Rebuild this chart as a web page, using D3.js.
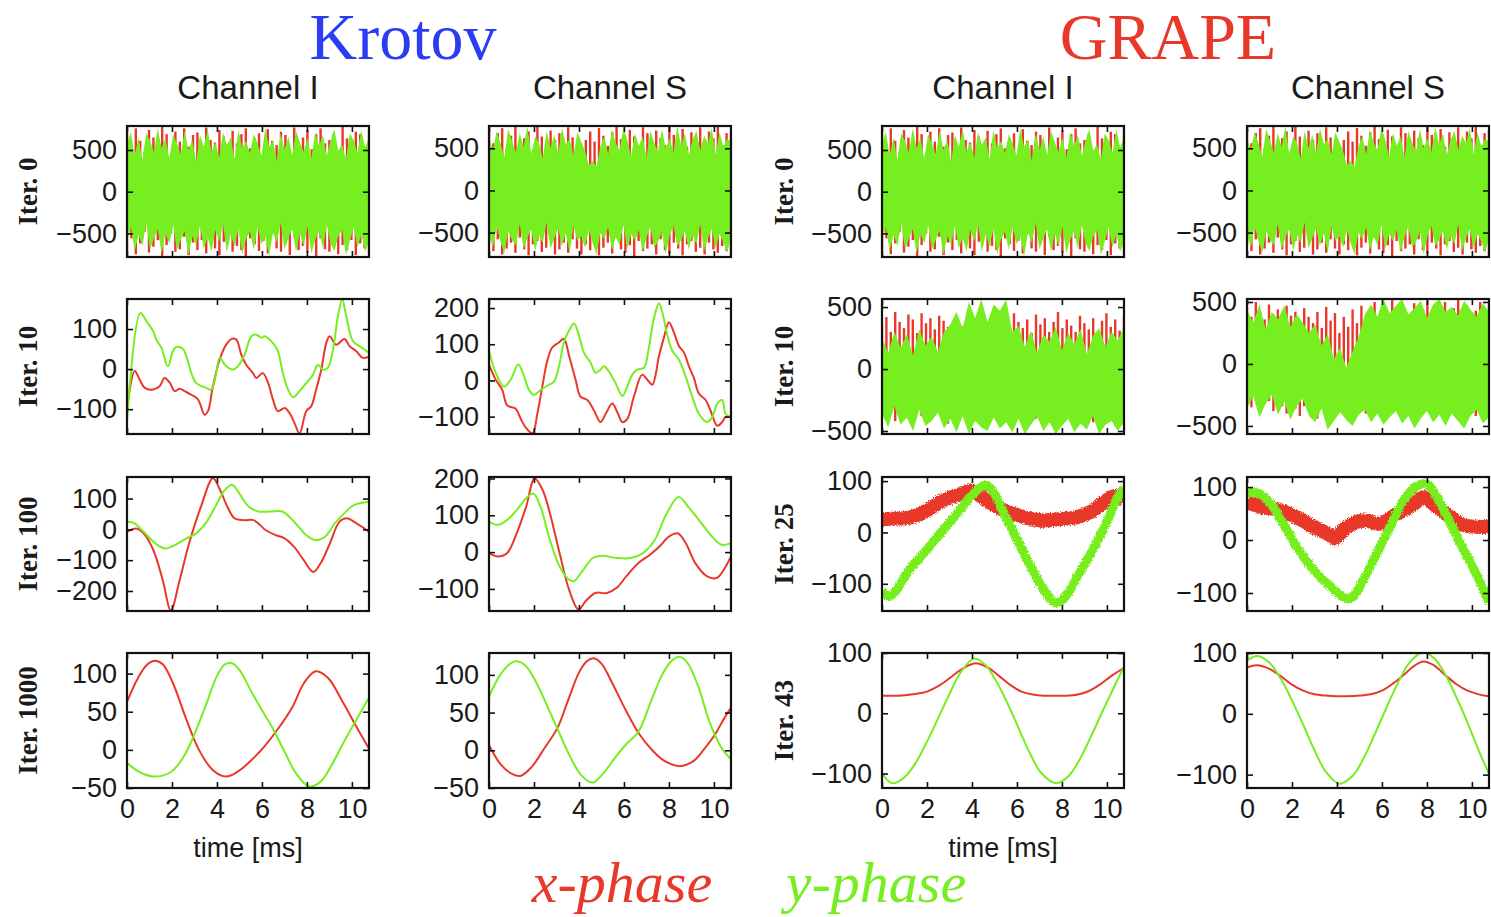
<!DOCTYPE html>
<html><head><meta charset="utf-8">
<script src="https://cdn.jsdelivr.net/npm/d3@7"></script>
<style>body{margin:0;background:#fff}svg{display:block}</style>
</head><body><svg id="c" width="1491" height="917"></svg>
<script>
// ---------------- DATA ----------------
const methods = ["Krotov", "GRAPE"];
const channels = ["Channel I", "Channel S"];
const krotovIters = ["Iter. 0", "Iter. 10", "Iter. 100", "Iter. 1000"];
const grapeIters = ["Iter. 0", "Iter. 10", "Iter. 25", "Iter. 43"];
const xTicks = [0, 2, 4, 6, 8, 10];
const legendLabels = ["x-phase", "y-phase"];

// Iteration 0 (random initial guess; identical for Krotov and GRAPE): min/max envelopes
const it0I_gHi = [560,720,430,650,380,700,610,470,760,520,640,400,690,580,450,730,500,620,360,680,540,750,470,600,410,710,560,650,390,740,520,610,460,690,580,430,760,540,620,370,700,500,660,440,730,590,480,640,400,720,550,680,430,610,750,490,570,390,700,620,460,740,530,660];
const it0I_gLo = [-600,-420,-710,-520,-650,-380,-690,-560,-450,-740,-500,-620,-400,-700,-580,-470,-760,-530,-640,-410,-680,-550,-720,-460,-600,-390,-730,-510,-660,-440,-750,-570,-480,-700,-420,-630,-540,-770,-490,-610,-380,-690,-560,-450,-720,-500,-650,-420,-740,-580,-470,-680,-400,-620,-710,-530,-460,-760,-590,-430,-670,-510,-720,-600];
const it0I_rHi = [700,520,760,610,480,740,650,560,780,690,430,720,600,760,540,680,710,500,770,620,590,740,660,450,730,580,690,760,520,640,700,480,750,610,560,720,680,430,770,600,650,740,510,690,760,580,620,700,470,780,640,560,720,690,520,750];
const it0I_rLo = [-700,-560,-750,-620,-480,-730,-660,-580,-770,-640,-500,-720,-690,-540,-760,-610,-700,-580,-740,-520,-680,-760,-600,-470,-720,-650,-700,-780,-560,-630,-710,-590,-740,-500,-680,-720,-620,-760,-540,-700,-650,-730,-600,-770,-560,-690,-720,-510,-750,-640,-700,-580,-760,-620,-680,-740];
const it0S_gHi = [620,480,700,560,400,730,590,450,680,520,760,430,640,570,380,710,500,660,440,740,550,610,420,690,580,470,300,350,280,520,650,430,720,560,480,750,600,410,680,530,640,390,710,570,460,730,500,620,450,760,540,680,420,600,710,480,650,560,740,430,690,520,610,580];
const it0S_gLo = [-520,-680,-430,-610,-740,-480,-590,-650,-400,-700,-560,-460,-720,-530,-620,-380,-690,-570,-450,-660,-510,-740,-420,-600,-540,-680,-470,-630,-760,-500,-580,-440,-710,-550,-650,-410,-690,-520,-600,-470,-730,-560,-430,-680,-610,-490,-750,-540,-420,-660,-590,-480,-700,-530,-640,-400,-720,-570,-460,-690,-520,-610,-740,-560];
const it0S_rHi = [720,560,680,740,500,650,770,590,620,700,480,760,640,560,710,600,680,520,750,630,470,540,600,700,580,740,650,530,690,760,610,560,720,640,500,750,680,590,710,620,540,760,660,600,730,520,690,640,750,580,700,620,760,540,680,720];
const it0S_rLo = [-650,-720,-580,-760,-690,-620,-740,-560,-700,-770,-640,-600,-730,-680,-550,-760,-700,-620,-740,-580,-690,-760,-640,-710,-600,-770,-680,-620,-750,-560,-700,-740,-650,-780,-600,-720,-690,-640,-760,-580,-710,-750,-620,-690,-770,-640,-600,-730,-680,-760,-620,-700,-740,-660,-720,-780];

// GRAPE iteration 10 envelopes
const g10I_gHi = [250,130,300,170,280,110,320,190,260,140,300,360,460,330,540,410,565,380,520,470,560,300,350,180,310,130,280,220,340,150,290,200,320,120,270,330,180,300,230,340];
const g10I_gLo = [-360,-470,-300,-450,-390,-500,-330,-460,-420,-350,-480,-400,-510,-380,-524,-420,-470,-500,-390,-480,-430,-510,-400,-524,-450,-380,-500,-430,-524,-460,-400,-510,-440,-490,-380,-524,-450,-420,-500,-430];
const g10I_rHi = [350,420,300,460,380,330,440,400,290,450,370,410,320,430,390,340,300,280,350,320,300,260,340,310,280,330,300,420,360,310,450,380,330,400,290,440,360,410,300,380,460,330,400,350,300,430,370,320,410,280,390,450,340,400,310,420];
const g10I_rLo = [-300,-380,-260,-420,-340,-300,-400,-350,-310,-380,-330,-290,-360,-320,-400,-440,-380,-420,-350,-300,-380,-330,-300,-360,-310,-400,-340,-380,-300,-350,-420,-330,-380,-300,-360,-400,-340,-310,-380,-420,-350,-300,-390,-340,-420,-360,-300,-380,-430,-350,-320,-400,-360,-300,-380,-340];
const g10S_gHi = [440,330,480,280,420,360,470,300,400,330,250,320,150,240,40,130,-30,100,220,400,480,380,524,410,470,524,400,450,510,370,480,524,420,460,390,510,440,380,490,420];
const g10S_gLo = [-360,-260,-430,-320,-250,-410,-300,-450,-340,-280,-420,-470,-360,-530,-460,-390,-450,-500,-410,-370,-470,-400,-490,-430,-380,-480,-420,-520,-440,-380,-470,-410,-500,-400,-460,-520,-420,-370,-480,-430];
const g10S_rHi = [460,380,500,420,360,480,400,440,350,470,390,420,310,450,380,330,420,290,460,350,410,250,380,300,440,330,470,390,430,500,360,450,410,520,380,460,430,350,490,400,440,510,370,460,420,500,380,450,520,400,470,360,430,500,410,480];
const g10S_rLo = [-280,-350,-240,-400,-320,-300,-380,-260,-340,-400,-300,-360,-420,-340,-380,-300,-440,-360,-320,-400,-380,-300,-360,-420,-330,-380,-300,-400,-350,-420,-380,-300,-360,-400,-330,-420,-360,-300,-380,-420,-340,-380,-320,-400,-360,-300,-420,-350,-380,-330,-400,-360,-420,-380,-340,-400];

// Krotov smooth pulses: [time ms, amplitude]
const k10I_x = [[0,-100],[0.34,-5],[0.56,-26],[0.79,-47],[1.16,-51],[1.45,-43],[1.67,-22],[1.9,-34],[2.12,-55],[2.34,-49],[2.56,-55],[2.86,-64],[3.16,-76],[3.45,-114],[3.6,-105],[3.82,-43],[4.12,24],[4.41,61],[4.64,75],[4.86,74],[5.08,36],[5.3,11],[5.6,-10],[5.75,-22],[6.04,-10],[6.27,-34],[6.49,-76],[6.71,-105],[7.01,-97],[7.23,-110],[7.45,-135],[7.67,-161],[7.97,-105],[8.19,-93],[8.41,-51],[8.64,-1],[8.86,65],[9.01,82],[9.3,61],[9.67,75],[9.9,57],[10.19,45],[10.49,28],[10.76,32]];
const k10I_y = [[0,-130],[0.59,140],[0.86,120],[1.16,95],[1.3,74],[1.53,53],[1.82,7],[2.04,45],[2.19,55],[2.49,50],[2.64,32],[2.86,-10],[3.08,-35],[3.53,-47],[3.75,-51],[3.97,-10],[4.12,28],[4.41,7],[4.71,-1],[4.93,7],[5.23,36],[5.53,82],[5.75,86],[5.97,78],[6.12,82],[6.49,65],[6.71,45],[6.93,-10],[7.16,-51],[7.38,-70],[7.67,-55],[7.97,-35],[8.27,-14],[8.49,11],[8.71,-1],[8.93,3],[9.16,49],[9.38,132],[9.57,174],[9.75,132],[10.04,70],[10.34,57],[10.56,49],[10.76,40]];
const k10S_x = [[0,44],[0.3,2],[0.59,-26],[0.81,-69],[1.19,-78],[1.41,-106],[1.63,-130],[1.93,-146],[2.15,-92],[2.37,-17],[2.59,54],[2.81,91],[3.11,105],[3.33,115],[3.56,68],[3.85,2],[4.07,-45],[4.37,-54],[4.67,-83],[4.96,-115],[5.19,-92],[5.48,-64],[5.7,-87],[5.93,-115],[6.15,-106],[6.44,-45],[6.81,16],[7.04,2],[7.26,-12],[7.56,68],[7.78,119],[8.0,161],[8.22,133],[8.44,96],[8.67,77],[8.89,39],[9.11,7],[9.33,-36],[9.63,-54],[9.85,-83],[10.15,-125],[10.37,-115],[10.52,-101],[10.76,-101]];
const k10S_y = [[0,82],[0.3,21],[0.67,-17],[0.96,2],[1.3,44],[1.48,25],[1.78,-26],[2.0,-40],[2.3,-26],[2.67,-12],[2.89,-3],[3.11,39],[3.33,105],[3.56,138],[3.78,157],[4.0,124],[4.22,77],[4.52,49],[4.74,21],[4.96,30],[5.11,39],[5.33,25],[5.63,-8],[5.93,-43],[6.15,-17],[6.37,16],[6.59,30],[6.89,35],[7.11,91],[7.33,171],[7.56,213],[7.7,190],[7.93,124],[8.15,82],[8.44,58],[8.74,11],[9.04,-45],[9.33,-92],[9.7,-115],[9.93,-101],[10.15,-64],[10.37,-54],[10.52,-92],[10.76,-101]];
const k100I_x = [[0,-8],[0.42,3],[0.74,-13],[1.17,-67],[1.59,-165],[1.95,-263],[2.34,-165],[2.76,-46],[3.29,74],[3.82,166],[4.14,128],[4.46,74],[4.78,36],[5.2,30],[5.63,30],[6.16,-2],[6.58,-18],[7.01,-29],[7.43,-57],[7.86,-100],[8.28,-138],[8.6,-111],[9.02,-46],[9.45,25],[9.77,36],[10.19,20],[10.76,-8]];
const k100I_y = [[0,25],[0.32,20],[0.74,-8],[1.27,-46],[1.7,-62],[2.12,-51],[2.65,-29],[3.08,-13],[3.5,20],[3.93,74],[4.35,128],[4.67,145],[4.99,117],[5.41,74],[5.84,58],[6.37,58],[6.9,58],[7.43,25],[7.96,-18],[8.39,-35],[8.81,-24],[9.24,20],[9.66,52],[10.08,79],[10.76,90]];
const k100S_x = [[0,-3],[0.38,-12],[0.8,-3],[1.23,51],[1.65,123],[2.03,200],[2.39,168],[2.71,105],[3.14,-3],[3.56,-102],[3.98,-156],[4.3,-133],[4.73,-111],[5.25,-111],[5.68,-97],[6.1,-66],[6.63,-30],[7.16,-7],[7.58,15],[8.0,42],[8.39,51],[8.75,24],[9.17,-30],[9.7,-66],[10.13,-70],[10.44,-48],[10.76,-12]];
const k100S_y = [[0,83],[0.38,74],[0.8,87],[1.23,114],[1.65,146],[1.97,159],[2.29,123],[2.71,33],[3.14,-39],[3.56,-75],[3.77,-79],[4.19,-48],[4.62,-16],[5.04,-10],[5.68,-16],[6.31,-16],[6.84,-3],[7.37,33],[7.9,105],[8.43,150],[8.86,123],[9.39,83],[9.92,42],[10.34,20],[10.76,24]];
const k1000I_x = [[0,63],[0.5,95],[0.9,112],[1.25,117],[1.6,112],[2.05,87],[2.6,43],[3.2,0],[3.8,-26],[4.4,-35],[4.95,-28],[5.55,-13],[6.15,6],[6.75,29],[7.35,56],[7.9,89],[8.4,103],[8.95,94],[9.55,65],[10.15,33],[10.75,2]];
const k1000I_y = [[0,-17],[0.55,-29],[1.25,-35],[1.95,-29],[2.5,-10],[2.95,17],[3.5,58],[4.0,97],[4.35,112],[4.65,114],[5.0,105],[5.5,78],[6.0,52],[6.45,30],[7.0,-2],[7.5,-30],[8.1,-48],[8.6,-42],[9.1,-20],[9.6,8],[10.15,37],[10.75,68]];
const k1000S_x = [[0,7],[0.5,-18],[1.0,-31],[1.4,-34],[1.9,-22],[2.45,2],[3.05,30],[3.5,65],[4.0,103],[4.35,118],[4.65,122],[5.0,115],[5.5,88],[6.05,55],[6.65,23],[7.2,2],[7.8,-14],[8.5,-21],[9.1,-14],[9.6,3],[10.05,21],[10.45,42],[10.75,56]];
const k1000S_y = [[0,71],[0.5,100],[1.0,116],[1.25,118],[1.6,113],[2.1,90],[2.6,58],[3.05,28],[3.6,-8],[4.1,-33],[4.6,-43],[5.1,-30],[5.6,-10],[6.1,8],[6.65,25],[7.2,65],[7.7,100],[8.1,118],[8.45,124],[8.8,117],[9.3,85],[9.8,38],[10.3,5],[10.75,-12]];

// GRAPE later iterations
const g25I_x = [[0,26],[0.6,27],[1.21,29],[1.96,42],[2.7,62],[3.44,74],[4.03,81],[4.47,68],[4.92,55],[5.66,39],[6.4,29],[7.14,23],[7.88,26],[8.62,29],[9.36,42],[9.96,62],[10.4,71],[10.76,62]];
const g25I_y = [[0,-112],[0.3,-125],[0.7,-108],[1.21,-73],[1.96,-35],[2.7,4],[3.44,42],[4.03,74],[4.6,92],[4.92,81],[5.51,29],[6.1,-22],[6.7,-73],[7.29,-118],[7.73,-137],[8.18,-124],[8.77,-79],[9.36,-35],[9.96,17],[10.4,62],[10.76,87]];
const g25S_x = [[0,71],[0.71,62],[1.46,56],[2.2,43],[2.95,25],[3.69,9],[3.91,3],[4.43,25],[5.18,37],[5.92,31],[6.67,50],[7.41,68],[7.86,81],[8.45,62],[9.05,43],[9.64,28],[10.24,25],[10.76,25]];
const g25S_y = [[0,90],[0.57,87],[1.01,71],[1.61,31],[2.2,-12],[2.95,-56],[3.69,-87],[4.36,-109],[4.66,-109],[5.18,-75],[5.77,-25],[6.37,25],[6.96,75],[7.56,102],[8.0,106],[8.45,81],[9.05,31],[9.64,-19],[10.24,-68],[10.76,-118]];
const g43I_x = [[0,29],[0.5,29],[1.0,30],[1.5,32],[2.0,36],[2.5,45],[3.0,58],[3.5,72],[4.15,83],[4.7,76],[5.2,62],[5.7,47],[6.2,36],[6.7,31],[7.2,29],[7.7,29],[8.2,29],[8.7,31],[9.2,37],[9.7,48],[10.2,62],[10.75,75]];
const g43I_y = [[0,-99],[0.45,-116],[1.0,-106],[1.5,-82],[2.0,-47],[2.5,-8],[3.0,32],[3.5,68],[4.1,91],[4.6,80],[5.1,52],[5.6,15],[6.1,-27],[6.6,-68],[7.1,-100],[7.75,-116],[8.3,-104],[8.8,-76],[9.3,-38],[9.8,3],[10.3,42],[10.75,77]];
const g43S_x = [[0,76],[0.45,80],[1.0,74],[1.5,62],[2.0,48],[2.5,38],[3.0,32],[3.5,30],[4.0,29],[4.5,29],[5.0,30],[5.5,32],[6.0,38],[6.5,50],[7.0,65],[7.4,78],[7.85,86],[8.3,80],[8.8,64],[9.3,49],[9.8,38],[10.3,32],[10.75,29]];
const g43S_y = [[0,87],[0.45,95],[1.0,84],[1.5,58],[2.0,22],[2.5,-18],[3.0,-60],[3.5,-95],[4.1,-115],[4.7,-102],[5.2,-72],[5.7,-32],[6.2,10],[6.7,50],[7.2,83],[7.8,101],[8.3,92],[8.8,66],[9.3,28],[9.8,-14],[10.3,-60],[10.75,-98]];

// y-axis domains and tick values per panel
const yDomains = {
  k0I:[-783,788], k0S:[-790,765], k10I:[-162,175], k10S:[-148,225], k100I:[-265,170], k100S:[-160,204], k1000I:[-50,127], k1000S:[-50,129],
  g10I:[-524,565], g10S:[-565,524], g25I:[-153,108], g25S:[-134,119], g43I:[-124,100], g43S:[-122,100]
};
const yTicks500 = [-500,0,500];
const yTicks100 = [-100,0,100];
const yTicks200 = [-100,0,100,200];
const yTicksK100I = [-200,-100,0,100];
const yTicks50 = [-50,0,50,100];

// ---------------- LAYOUT ----------------
const RED = "#e8382a", GREEN = "#76ee1f", BLUE = "#2b3cf2";
const colX = [127, 489, 882, 1247], rowY = [126, 299, 477, 653], rowH = [131, 135, 134, 135], W = 242;
const tDomain = [0, 10.76];
const SANS = "'Liberation Sans', Arial, sans-serif", SERIF = "'Liberation Serif', 'Times New Roman', serif";

const panels = [
  {c:0,r:0,dom:yDomains.k0I,ticks:yTicks500,noise:[it0I_gHi,it0I_gLo,it0I_rHi,it0I_rLo]},
  {c:1,r:0,dom:yDomains.k0S,ticks:yTicks500,noise:[it0S_gHi,it0S_gLo,it0S_rHi,it0S_rLo]},
  {c:2,r:0,dom:yDomains.k0I,ticks:yTicks500,noise:[it0I_gHi,it0I_gLo,it0I_rHi,it0I_rLo]},
  {c:3,r:0,dom:yDomains.k0S,ticks:yTicks500,noise:[it0S_gHi,it0S_gLo,it0S_rHi,it0S_rLo]},
  {c:0,r:1,dom:yDomains.k10I,ticks:yTicks100,lines:[k10I_x,k10I_y]},
  {c:1,r:1,dom:yDomains.k10S,ticks:yTicks200,lines:[k10S_x,k10S_y]},
  {c:2,r:1,dom:yDomains.g10I,ticks:yTicks500,noise:[g10I_gHi,g10I_gLo,g10I_rHi,g10I_rLo]},
  {c:3,r:1,dom:yDomains.g10S,ticks:yTicks500,noise:[g10S_gHi,g10S_gLo,g10S_rHi,g10S_rLo]},
  {c:0,r:2,dom:yDomains.k100I,ticks:yTicksK100I,lines:[k100I_x,k100I_y]},
  {c:1,r:2,dom:yDomains.k100S,ticks:yTicks200,lines:[k100S_x,k100S_y]},
  {c:2,r:2,dom:yDomains.g25I,ticks:yTicks100,lines:[g25I_x,g25I_y],thick:true},
  {c:3,r:2,dom:yDomains.g25S,ticks:yTicks100,lines:[g25S_x,g25S_y],thick:true},
  {c:0,r:3,dom:yDomains.k1000I,ticks:yTicks50,lines:[k1000I_x,k1000I_y]},
  {c:1,r:3,dom:yDomains.k1000S,ticks:yTicks50,lines:[k1000S_x,k1000S_y]},
  {c:2,r:3,dom:yDomains.g43I,ticks:yTicks100,lines:[g43I_x,g43I_y]},
  {c:3,r:3,dom:yDomains.g43S,ticks:yTicks100,lines:[g43S_x,g43S_y]}
];

const svg = d3.select("#c");
// texture filter that roughens the thick (noisy) GRAPE Iter. 25 traces
const defs = svg.append("defs");
const f = defs.append("filter").attr("id", "rough").attr("x", "-10%").attr("y", "-30%").attr("width", "120%").attr("height", "160%");
f.append("feTurbulence").attr("type", "fractalNoise").attr("baseFrequency", "0.9").attr("numOctaves", 2).attr("seed", 4).attr("result", "n");
f.append("feDisplacementMap").attr("in", "SourceGraphic").attr("in2", "n").attr("scale", 5)
  .attr("xChannelSelector", "R").attr("yChannelSelector", "G");

panels.forEach((p, k) => {
  const x0 = colX[p.c], y0 = rowY[p.r], h = rowH[p.r];
  const xs = d3.scaleLinear().domain(tDomain).range([x0, x0 + W]);
  const ys = d3.scaleLinear().domain(p.dom).range([y0 + h, y0]);
  const g = svg.append("g");
  g.append("clipPath").attr("id", "clip" + k).append("rect")
    .attr("x", x0).attr("y", y0).attr("width", W).attr("height", h);
  const pg = g.append("g").attr("clip-path", `url(#clip${k})`);

  if (p.noise) {
    const [gHi, gLo, rHi, rLo] = p.noise;
    const tx = (arr, i) => xs(i * tDomain[1] / (arr.length - 1));
    [rHi, rLo].forEach(arr => {
      pg.append("g").selectAll("line").data(arr).join("line")
        .attr("x1", (d, i) => tx(arr, i)).attr("x2", (d, i) => tx(arr, i))
        .attr("y1", ys(0)).attr("y2", d => ys(d))
        .attr("stroke", RED).attr("stroke-width", 2.4);
    });
    const area = d3.area().x((d, i) => tx(gHi, i)).y0((d, i) => ys(gLo[i])).y1(d => ys(d));
    pg.append("path").datum(gHi).attr("d", area).attr("fill", GREEN);
  }
  if (p.lines) {
    const line = d3.line().x(d => xs(d[0])).y(d => ys(d[1])).curve(d3.curveCatmullRom.alpha(0.5));
    const widths = p.thick ? [14, 9] : [2, 2];
    [RED, GREEN].forEach((col, j) => {
      const path = pg.append("path").datum(p.lines[j]).attr("d", line)
        .attr("fill", "none").attr("stroke", col).attr("stroke-width", widths[j])
        .attr("stroke-linejoin", "round").attr("stroke-linecap", "butt");
      if (p.thick) path.attr("filter", "url(#rough)");
    });
  }

  // axes with inward ticks on all four sides
  const styleAxis = sel => {
    sel.select(".domain").remove();
    sel.selectAll(".tick line").attr("stroke", "#111").attr("stroke-width", 1.6);
    sel.selectAll("text").attr("font-family", SANS).attr("font-size", 27).attr("fill", "#1a1a1a");
  };
  g.append("g").attr("transform", `translate(${x0},0)`)
    .call(d3.axisLeft(ys).tickValues(p.ticks).tickSize(-6).tickPadding(10)).call(styleAxis);
  g.append("g").attr("transform", `translate(${x0 + W},0)`)
    .call(d3.axisRight(ys).tickValues(p.ticks).tickSize(-6).tickFormat("")).call(styleAxis);
  g.append("g").attr("transform", `translate(0,${y0})`)
    .call(d3.axisTop(xs).tickValues(xTicks).tickSize(-6).tickFormat("")).call(styleAxis);
  const bAx = d3.axisBottom(xs).tickValues(xTicks).tickSize(-6).tickPadding(11);
  if (p.r !== 3) bAx.tickFormat("");
  g.append("g").attr("transform", `translate(0,${y0 + h})`).call(bAx).call(styleAxis);

  g.append("rect").attr("x", x0).attr("y", y0).attr("width", W).attr("height", h)
    .attr("fill", "none").attr("stroke", "#111").attr("stroke-width", 2.2);
});

// titles
svg.append("text").attr("x", 403).attr("y", 59).attr("text-anchor", "middle")
  .attr("font-family", SERIF).attr("font-size", 66).attr("fill", BLUE).text(methods[0]);
svg.append("text").attr("x", 1168).attr("y", 59).attr("text-anchor", "middle")
  .attr("font-family", SERIF).attr("font-size", 66).attr("fill", RED).text(methods[1]);

// channel headers
colX.forEach((x, i) => {
  svg.append("text").attr("x", x + W / 2).attr("y", 99).attr("text-anchor", "middle")
    .attr("font-family", SANS).attr("font-size", 33).attr("fill", "#1a1a1a").text(channels[i % 2]);
});

// row labels
[[28, krotovIters], [784, grapeIters]].forEach(([cx, labels]) => {
  labels.forEach((lab, r) => {
    const cy = rowY[r] + rowH[r] / 2;
    svg.append("text").attr("transform", `translate(${cx},${cy}) rotate(-90)`)
      .attr("text-anchor", "middle").attr("dominant-baseline", "central")
      .attr("font-family", SERIF).attr("font-weight", "bold").attr("font-size", 27)
      .attr("fill", "#1a1a1a").text(lab);
  });
});

// x-axis titles
[0, 2].forEach(c => {
  svg.append("text").attr("x", colX[c] + W / 2).attr("y", 857).attr("text-anchor", "middle")
    .attr("font-family", SANS).attr("font-size", 27).attr("fill", "#1a1a1a").text("time [ms]");
});

// legend
svg.append("text").attr("x", 622).attr("y", 902).attr("text-anchor", "middle")
  .attr("font-family", SERIF).attr("font-style", "italic").attr("font-size", 58).attr("fill", RED).text(legendLabels[0]);
svg.append("text").attr("x", 876).attr("y", 902).attr("text-anchor", "middle")
  .attr("font-family", SERIF).attr("font-style", "italic").attr("font-size", 58).attr("fill", GREEN).text(legendLabels[1]);
</script></body></html>
